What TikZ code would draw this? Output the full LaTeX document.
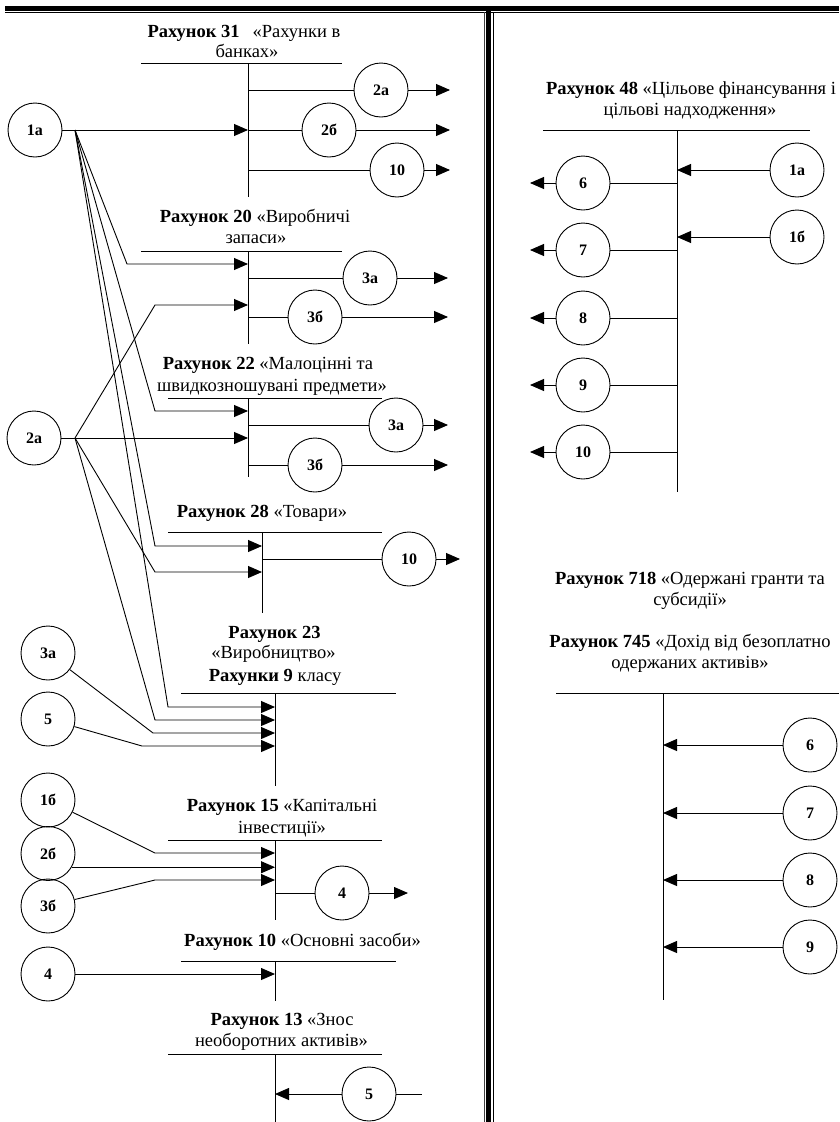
\documentclass[tikz,border=0pt]{standalone}
\usepackage{fontspec}
\setmainfont{Liberation Serif}
\usetikzlibrary{arrows.meta}
\begin{document}
\begin{tikzpicture}[x=1pt,y=-1pt,
  ln/.style={line width=0.9pt},
  arr/.style={line width=0.9pt,-{Triangle[length=14pt,width=12pt]}},
  cir/.style={circle,draw,line width=0.9pt,minimum size=54pt,inner sep=0pt,
    font=\bfseries\fontsize{16}{16}\selectfont},
  ttl/.style={anchor=base,inner sep=0pt,font=\fontsize{18.5}{21}\selectfont}]
\useasboundingbox (0,0) rectangle (839,1122);

% page rules
\draw[line width=4.6pt] (5,8.4) -- (839,8.4);
\draw[line width=1pt] (5,12.8) -- (839,12.8);
\draw[line width=0.8pt,black!75] (484,12) -- (484,1122);
\draw[line width=4.6pt] (488.4,8) -- (488.4,1122);
\draw[line width=1.4pt] (493.6,12) -- (493.6,1122);

% ---------- account 31 ----------
\node[ttl] (t31a) at (244,37) {\textbf{Рахунок 31}\hspace{13pt}«Рахунки в};
\node[ttl] (t31b) at (247,57) {банках»};
\coordinate (a31l) at (141,63); \coordinate (a31r) at (342,63);
\coordinate (a31t) at (248,63); \coordinate (a31b) at (248,197);
\coordinate (o31) at (450,63);
\draw[ln] (a31l) -- (a31r); \draw[ln] (a31t) -- (a31b);
\node[cir] (k31a) at (381,90) {2а};
\node[cir] (k31b) at (329,130) {2б};
\node[cir] (k31c) at (397,170) {10};
\foreach \k in {k31a,k31b,k31c}{
  \draw[ln] (\k -| a31t) -- (\k);
  \draw[arr] (\k) -- (\k -| o31);
}

% ---------- account 20 ----------
\node[ttl] (t20a) at (255,222) {\textbf{Рахунок 20} «Виробничі};
\node[ttl] (t20b) at (256,243) {запаси»};
\coordinate (a20l) at (141,251); \coordinate (a20r) at (342,251);
\coordinate (a20t) at (248,251); \coordinate (a20b) at (248,344);
\coordinate (o20) at (448,251);
\draw[ln] (a20l) -- (a20r); \draw[ln] (a20t) -- (a20b);
\node[cir] (k20a) at (370,278) {3а};
\node[cir] (k20b) at (315,317) {3б};
\foreach \k in {k20a,k20b}{
  \draw[ln] (\k -| a20t) -- (\k);
  \draw[arr] (\k) -- (\k -| o20);
}

% ---------- account 22 ----------
\node[ttl] (t22a) at (268,369) {\textbf{Рахунок 22} «Малоцінні та};
\node[ttl] (t22b) at (272,391) {швидкозношувані предмети»};
\coordinate (a22l) at (168,398); \coordinate (a22r) at (382,398);
\coordinate (a22t) at (248,398); \coordinate (a22b) at (248,477);
\coordinate (o22) at (448,398);
\draw[ln] (a22l) -- (a22r); \draw[ln] (a22t) -- (a22b);
\node[cir] (k22a) at (396,425) {3а};
\node[cir] (k22b) at (315,465) {3б};
\foreach \k in {k22a,k22b}{
  \draw[ln] (\k -| a22t) -- (\k);
  \draw[arr] (\k) -- (\k -| o22);
}

% ---------- account 28 ----------
\node[ttl] (t28) at (262,517) {\textbf{Рахунок 28} «Товари»};
\coordinate (a28l) at (168,532); \coordinate (a28r) at (382,532);
\coordinate (a28t) at (262,532); \coordinate (a28b) at (262,613);
\coordinate (o28) at (460,532);
\draw[ln] (a28l) -- (a28r); \draw[ln] (a28t) -- (a28b);
\node[cir] (k28a) at (409,559) {10};
\draw[ln] (k28a -| a28t) -- (k28a);
\draw[arr] (k28a) -- (k28a -| o28);

% ---------- account 23 ----------
\node[ttl] (t23a) at (274.5,638) {\textbf{Рахунок 23}};
\node[ttl] (t23b) at (273.5,658) {«Виробництво»};
\node[ttl] (t23c) at (275,681) {\textbf{Рахунки 9} класу};
\coordinate (a23l) at (181,693); \coordinate (a23r) at (396,693);
\coordinate (a23t) at (275,693); \coordinate (a23b) at (275,786);
\draw[ln] (a23l) -- (a23r); \draw[ln] (a23t) -- (a23b);

% ---------- account 15 ----------
\node[ttl] (t15a) at (282,811) {\textbf{Рахунок 15} «Капітальні};
\node[ttl] (t15b) at (282,833) {інвестиції»};
\coordinate (a15l) at (168,840); \coordinate (a15r) at (382,840);
\coordinate (a15t) at (275,840); \coordinate (a15b) at (275,920);
\coordinate (o15) at (408,840);
\draw[ln] (a15l) -- (a15r); \draw[ln] (a15t) -- (a15b);
\node[cir] (k15a) at (342,893) {4};
\draw[ln] (k15a -| a15t) -- (k15a);
\draw[arr] (k15a) -- (k15a -| o15);

% ---------- account 10 ----------
\node[ttl] (t10) at (302.5,946) {\textbf{Рахунок 10} «Основні засоби»};
\coordinate (a10l) at (181,961); \coordinate (a10r) at (396,961);
\coordinate (a10t) at (275,961); \coordinate (a10b) at (275,1001);
\draw[ln] (a10l) -- (a10r); \draw[ln] (a10t) -- (a10b);

% ---------- account 13 ----------
\node[ttl] (t13a) at (282,1025) {\textbf{Рахунок 13} «Знос};
\node[ttl] (t13b) at (281.5,1046) {необоротних активів»};
\coordinate (a13l) at (168,1054); \coordinate (a13r) at (382,1054);
\coordinate (a13t) at (275,1054); \coordinate (a13b) at (275,1122);
\coordinate (o13) at (422,1054);
\draw[ln] (a13l) -- (a13r); \draw[ln] (a13t) -- (a13b);
\node[cir] (k13a) at (369,1094) {5};
\draw[arr] (k13a) -- (k13a -| a13t);
\draw[ln] (k13a) -- (k13a -| o13);

% ---------- left-hand sources ----------
\node[cir] (n1a) at (35,130) {1а};
\coordinate (f1a) at (75,130);
\draw[ln] (n1a) -- (f1a);
\draw[arr] (f1a) -- (f1a -| a31t);
\coordinate (p11) at (127,264);
\coordinate (p12) at (155,411);
\coordinate (p13) at (155,546);
\coordinate (p14) at (168,707);
\draw[arr] (f1a) -- (p11) -- (p11 -| a20t);
\draw[arr] (f1a) -- (p12) -- (p12 -| a22t);
\draw[arr] (f1a) -- (p13) -- (p13 -| a28t);
\draw[arr] (f1a) -- (p14) -- (p14 -| a23t);

\node[cir] (n2a) at (34,438) {2а};
\coordinate (f2a) at (75,438);
\draw[ln] (n2a) -- (f2a);
\draw[arr] (f2a) -- (f2a -| a22t);
\coordinate (p21) at (155,305);
\coordinate (p22) at (155,572);
\coordinate (p23) at (155,720);
\draw[arr] (f2a) -- (p21) -- (p21 -| a20t);
\draw[arr] (f2a) -- (p22) -- (p22 -| a28t);
\draw[arr] (f2a) -- (p23) -- (p23 -| a23t);

\node[cir] (n3a) at (48,653) {3а};
\coordinate (p31) at (153,733);
\draw[arr] (n3a) -- (p31) -- (p31 -| a23t);

\node[cir] (n5) at (48,719) {5};
\coordinate (p51) at (142,746);
\draw[arr] (n5) -- (p51) -- (p51 -| a23t);

\node[cir] (n1b) at (48,800) {1б};
\coordinate (p61) at (155,853);
\draw[arr] (n1b) -- (p61) -- (p61 -| a15t);

\node[cir] (n2b) at (48,853.5) {2б};
\draw[arr] (n2b.-30) -- (n2b.-30 -| a15t);

\node[cir] (n3b) at (48,906) {3б};
\coordinate (p71) at (155,880);
\draw[arr] (n3b) -- (p71) -- (p71 -| a15t);

\node[cir] (n4) at (48,974) {4};
\draw[arr] (n4) -- (n4 -| a10t);

% ---------- account 48 ----------
\node[ttl] (t48a) at (691,94) {\textbf{Рахунок 48} «Цільове фінансування і};
\node[ttl] (t48b) at (690,115) {цільові надходження»};
\coordinate (a48l) at (543,130); \coordinate (a48r) at (810,130);
\coordinate (a48t) at (677,130); \coordinate (a48b) at (677,492);
\coordinate (o48) at (530,130);
\draw[ln] (a48l) -- (a48r); \draw[ln] (a48t) -- (a48b);
\node[cir] (r1a) at (797,170) {1а};
\node[cir] (r1b) at (797,237) {1б};
\foreach \k in {r1a,r1b}{
  \draw[arr] (\k) -- (\k -| a48t);
}
\node[cir] (r6) at (583,183) {6};
\node[cir] (r7) at (583,250) {7};
\node[cir] (r8) at (583,318) {8};
\node[cir] (r9) at (583,385) {9};
\node[cir] (r10) at (583,452) {10};
\foreach \k in {r6,r7,r8,r9,r10}{
  \draw[ln] (\k -| a48t) -- (\k);
  \draw[arr] (\k) -- (\k -| o48);
}

% ---------- accounts 718 / 745 ----------
\node[ttl] (t718a) at (690,584) {\textbf{Рахунок 718} «Одержані гранти та};
\node[ttl] (t718b) at (690,605) {субсидії»};
\node[ttl] (t745a) at (690,647) {\textbf{Рахунок 745} «Дохід від безоплатно};
\node[ttl] (t745b) at (690,668) {одержаних активів»};
\coordinate (a7l) at (556,693); \coordinate (a7r) at (839,693);
\coordinate (a7t) at (663,693); \coordinate (a7b) at (663,1000);
\draw[ln] (a7l) -- (a7r); \draw[ln] (a7t) -- (a7b);
\node[cir] (s6) at (810,745) {6};
\node[cir] (s7) at (810,813) {7};
\node[cir] (s8) at (810,880) {8};
\node[cir] (s9) at (810,947) {9};
\foreach \k in {s6,s7,s8,s9}{
  \draw[arr] (\k) -- (\k -| a7t);
}
\end{tikzpicture}
\end{document}
